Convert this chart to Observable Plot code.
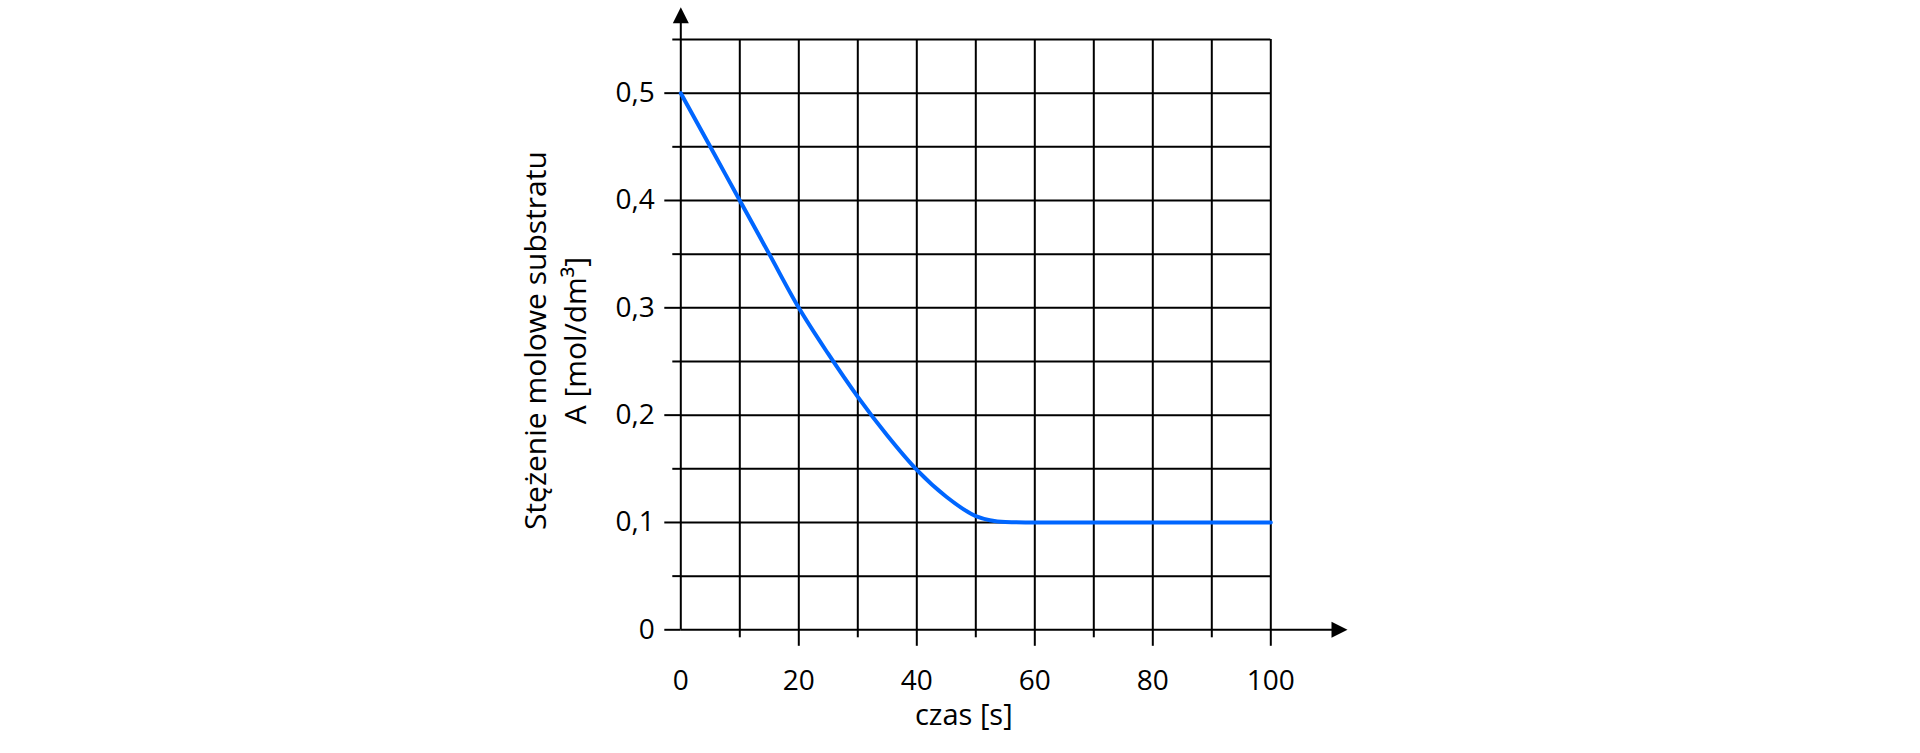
<!DOCTYPE html>
<html><head><meta charset="utf-8">
<script src="https://cdn.jsdelivr.net/npm/d3@7"></script>
<script src="https://cdn.jsdelivr.net/npm/@observablehq/plot@0.6"></script>
<style>html,body{margin:0;padding:0;background:#fff;overflow:hidden;}</style>
</head><body><div id="chart"></div>
<script>
// Data
const czas = [0, 5, 10, 15, 20, 25, 30, 35, 40, 45, 50, 55, 60, 70, 80, 90, 100];
const stezenie = [0.5, 0.45, 0.4, 0.35, 0.3, 0.257, 0.217, 0.181, 0.149, 0.124, 0.106, 0.1005, 0.1, 0.1, 0.1, 0.1, 0.1];

// Ticks and grid
const xTickLabels = [0, 20, 40, 60, 80, 100];
const xMajorTicks = [20, 40, 60, 80, 100];
const xMinorTicks = [10, 30, 50, 70, 90];
const xGrid = [10, 20, 30, 40, 50, 60, 70, 80, 90, 100];
const yTickLabels = [0, 0.1, 0.2, 0.3, 0.4, 0.5];
const yMinorTicks = [0.05, 0.15, 0.25, 0.35, 0.45, 0.55];
const yGrid = [0.05, 0.1, 0.15, 0.2, 0.25, 0.3, 0.35, 0.4, 0.45, 0.5, 0.55];

// Texts
const xTitle = "czas [s]";
const yTitle = ["Stężenie molowe substratu", "A [mol/dm³]"];

// Axis extents (data units)
const xDomain = [0, 100];
const yDomain = [0, 0.55];
const xAxisEnd = 113;
const yAxisEnd = 0.58;

const series = czas.map((t, i) => ({czas: t, c: stezenie[i]}));
const fmt = d => d === 0 ? "0" : d3.format(".1f")(d).replace(".", ",");
const noText = () => "";

const arrowUp = {draw(ctx) { ctx.moveTo(0, 0); ctx.lineTo(8, 16); ctx.lineTo(-8, 16); ctx.closePath(); }};
const arrowRight = {draw(ctx) { ctx.moveTo(0, 0); ctx.lineTo(-16, 8); ctx.lineTo(-16, -8); ctx.closePath(); }};

const ink = "#000";
const gw = 2;

const chart = Plot.plot({
  width: 1920,
  height: 753,
  marginLeft: 680.3,
  marginRight: 649.7,
  marginTop: 39,
  marginBottom: 123.7,
  x: {domain: xDomain},
  y: {domain: yDomain},
  style: {fontFamily: "'Open Sans', sans-serif", fontSize: "28px", background: "#fff", color: "#000"},
  marks: [
    // grid
    Plot.ruleY(yGrid, {x1: xDomain[0], x2: xDomain[1], stroke: ink, strokeWidth: gw}),
    Plot.ruleX(xGrid, {y1: yDomain[0], y2: yDomain[1], stroke: ink, strokeWidth: gw}),
    // ticks
    Plot.axisY(yMinorTicks, {tickSize: 8, tickFormat: noText, stroke: ink, strokeWidth: gw}),
    Plot.axisY(yTickLabels, {tickSize: 16, tickPadding: 10, tickFormat: fmt, fontSize: 28, color: ink, strokeWidth: gw}),
    Plot.axisX(xMinorTicks, {tickSize: 8, tickFormat: noText, stroke: ink, strokeWidth: gw}),
    Plot.axisX(xMajorTicks, {tickSize: 16.5, tickFormat: noText, stroke: ink, strokeWidth: gw}),
    Plot.axisX(xTickLabels, {tickSize: 0, tickPadding: 40, fontSize: 28, color: ink}),
    // axes with arrows
    Plot.ruleX([0], {y1: yDomain[0], y2: yAxisEnd - 0.01, stroke: ink, strokeWidth: gw}),
    Plot.ruleY([0], {x1: xDomain[0], x2: xAxisEnd - 2, stroke: ink, strokeWidth: gw}),
    Plot.dot([{x: 0, y: yAxisEnd}], {x: "x", y: "y", symbol: arrowUp, fill: ink, stroke: null}),
    Plot.dot([{x: xAxisEnd, y: 0}], {x: "x", y: "y", symbol: arrowRight, fill: ink, stroke: null}),
    // titles
    Plot.text([xTitle], {frameAnchor: "bottom", textAnchor: "middle", dx: -12, dy: 95, fontSize: 29, fill: ink}),
    Plot.text([yTitle.join("\n")], {frameAnchor: "left", textAnchor: "middle", rotate: -90, dx: -128, dy: 6, lineHeight: 1.33, fontSize: 30, fill: ink}),
    // data line
    Plot.line(series, {x: "czas", y: "c", curve: "monotone-x", stroke: "#0066ff", strokeWidth: 4})
  ]
});
document.getElementById("chart").appendChild(chart);
</script>
</body></html>
